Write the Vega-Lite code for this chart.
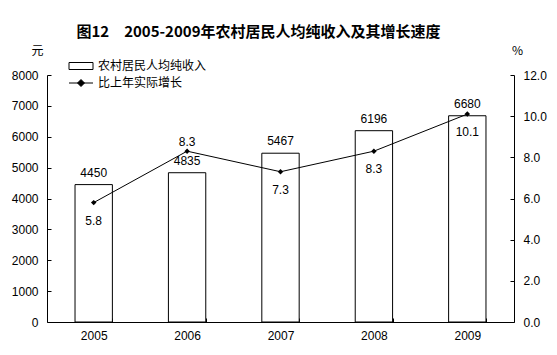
{
  "$schema": "https://vega.github.io/schema/vega-lite/v6.json",
  "autosize": "none",
  "width": 467,
  "height": 247,
  "padding": {"left": 47, "top": 75, "right": 43, "bottom": 33},
  "background": "white",
  "title": {
    "text": "图12　2005-2009年农村居民人均纯收入及其增长速度",
    "font": "Noto Sans CJK SC",
    "fontSize": 15,
    "fontWeight": "bold",
    "color": "black",
    "anchor": "middle",
    "dx": -22,
    "offset": 4
  },
  "config": {
    "view": {"stroke": null},
    "font": "Liberation Sans",
    "axis": {
      "grid": false,
      "domainColor": "black",
      "tickColor": "black",
      "labelColor": "black",
      "labelFontSize": 12,
      "labelFont": "Liberation Sans",
      "titleFont": "Noto Sans CJK SC",
      "titleFontSize": 12,
      "titleFontWeight": "normal",
      "titleColor": "black"
    }
  },
  "data": {
    "values": [
      {"year": "2005", "income": 4450, "growth": 5.8},
      {"year": "2006", "income": 4835, "growth": 8.3},
      {"year": "2007", "income": 5467, "growth": 7.3},
      {"year": "2008", "income": 6196, "growth": 8.3},
      {"year": "2009", "income": 6680, "growth": 10.1}
    ]
  },
  "encoding": {
    "x": {
      "field": "year",
      "type": "ordinal",
      "scale": {"paddingInner": 0.6, "paddingOuter": 0.3},
      "axis": {"title": null, "labelAngle": 0, "tickBand": "extent", "tickSize": -4, "labelPadding": 12}
    }
  },
  "layer": [
    {
      "encoding": {
        "y": {
          "field": "income",
          "type": "quantitative",
          "scale": {"domain": [0, 8000]},
          "axis": {
            "title": "元",
            "titleAngle": 0,
            "titleX": -10,
            "titleY": -25,
            "titleAlign": "center",
            "titleBaseline": "middle",
            "values": [0, 1000, 2000, 3000, 4000, 5000, 6000, 7000, 8000],
            "format": "d",
            "tickSize": -4,
            "labelPadding": 13
          }
        }
      },
      "layer": [
        {"mark": {"type": "bar", "fill": "white", "stroke": "black", "strokeWidth": 1}},
        {
          "mark": {"type": "text", "baseline": "middle", "dy": -12, "fontSize": 12, "color": "black"},
          "encoding": {"text": {"field": "income", "type": "quantitative", "format": "d"}}
        }
      ]
    },
    {
      "encoding": {
        "y": {
          "field": "growth",
          "type": "quantitative",
          "scale": {"domain": [0, 12]},
          "axis": {
            "orient": "right",
            "title": "%",
            "titleAngle": 0,
            "titleX": 3,
            "titleY": -25,
            "titleAlign": "center",
            "titleBaseline": "middle",
            "values": [0, 2, 4, 6, 8, 10, 12],
            "format": ".1f",
            "tickSize": -4,
            "labelPadding": 13
          }
        }
      },
      "layer": [
        {
          "mark": {"type": "line", "strokeWidth": 1},
          "encoding": {
            "color": {
              "datum": "比上年实际增长",
              "type": "nominal",
              "scale": {"domain": ["农村居民人均纯收入", "比上年实际增长"], "range": ["black", "black"]},
              "legend": {
                "title": null,
                "orient": "none",
                "legendX": 21,
                "legendY": -15,
                "padding": 0,
                "labelFont": "Noto Sans CJK SC",
                "labelFontSize": 12,
                "labelColor": "black",
                "symbolSize": 100,
                "symbolOffset": 7,
                "labelOffset": 11,
                "rowPadding": 5,
                "symbolStrokeWidth": 1,
                "encode": {
                  "symbols": {
                    "update": {
                      "shape": [
                        {"test": "datum.value === '农村居民人均纯收入'", "value": "M-2.4,-0.7H2.4V0.7H-2.4Z"},
                        {"value": "M-2.4,0H2.4M0,-0.7L0.7,0L0,0.7L-0.7,0Z"}
                      ],
                      "fill": [
                        {"test": "datum.value === '农村居民人均纯收入'", "value": "white"},
                        {"value": "black"}
                      ],
                      "stroke": {"value": "black"},
                      "strokeWidth": {"value": 1}
                    }
                  }
                }
              }
            }
          }
        },
        {"mark": {"type": "point", "shape": "diamond", "filled": true, "color": "black", "size": 30, "opacity": 1}},
        {
          "transform": [{"filter": "datum.year === '2006'"}],
          "mark": {"type": "text", "baseline": "middle", "dy": -9, "fontSize": 12, "color": "black"},
          "encoding": {"text": {"field": "growth", "type": "quantitative", "format": ".1f"}}
        },
        {
          "transform": [{"filter": "datum.year !== '2006'"}],
          "mark": {"type": "text", "baseline": "middle", "dy": 18, "fontSize": 12, "color": "black"},
          "encoding": {"text": {"field": "growth", "type": "quantitative", "format": ".1f"}}
        }
      ]
    }
  ],
  "resolve": {"scale": {"y": "independent"}}
}
